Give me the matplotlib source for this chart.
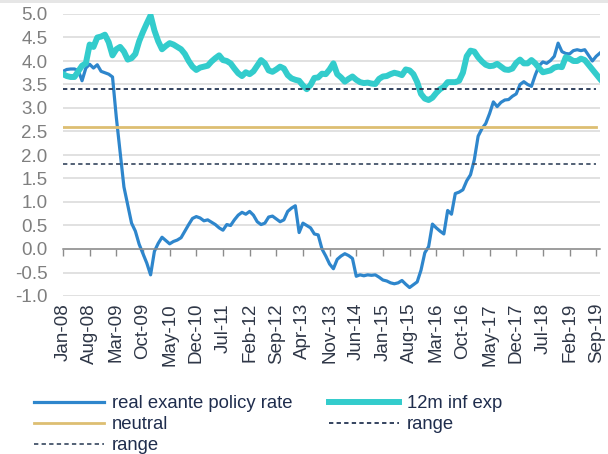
import numpy as np
import pandas as pd
import matplotlib
matplotlib.use('Agg')
import matplotlib.pyplot as plt
from matplotlib.patches import Rectangle
from matplotlib.ticker import FormatStrFormatter

plt.rcParams['font.family'] = ['Liberation Sans', 'DejaVu Sans']

# monthly, Jan-08 .. Oct-19
months = pd.date_range('2008-01-01', periods=142, freq='MS')

real_rate = [
    3.78, 3.82, 3.83, 3.83, 3.80, 3.58, 3.85, 3.93, 3.85, 3.92, 3.78, 3.75,
    3.72, 3.66, 2.80, 2.05, 1.32, 0.93, 0.55, 0.38, 0.10, -0.10, -0.30, -0.55,
    -0.05, 0.12, 0.25, 0.18, 0.11, 0.16, 0.19, 0.24, 0.38, 0.52, 0.65, 0.69,
    0.66, 0.60, 0.62, 0.57, 0.52, 0.45, 0.40, 0.52, 0.50, 0.62, 0.72, 0.78,
    0.74, 0.80, 0.72, 0.58, 0.52, 0.55, 0.68, 0.70, 0.64, 0.58, 0.62, 0.80,
    0.87, 0.92, 0.35, 0.55, 0.50, 0.45, 0.32, 0.30, 0.00, -0.15, -0.32, -0.42,
    -0.22, -0.15, -0.10, -0.14, -0.20, -0.58, -0.55, -0.57, -0.55, -0.56, -0.55, -0.60,
    -0.66, -0.68, -0.72, -0.74, -0.72, -0.67, -0.75, -0.82, -0.76, -0.70, -0.45, -0.08,
    0.05, 0.53, 0.45, 0.38, 0.32, 0.82, 0.74, 1.18, 1.21, 1.26, 1.45, 1.58,
    1.90, 2.40, 2.56, 2.67, 2.88, 3.13, 3.03, 3.12, 3.17, 3.18, 3.25, 3.30,
    3.50, 3.56, 3.50, 3.46, 3.70, 3.90, 3.98, 3.95, 4.01, 4.10, 4.38, 4.20,
    4.16, 4.15, 4.22, 4.24, 4.22, 4.24, 4.12, 4.00, 4.10, 4.17,
]

inf_exp = [
    3.72, 3.68, 3.66, 3.66, 3.78, 3.90, 3.95, 4.35, 4.30, 4.50, 4.52, 4.56,
    4.40, 4.12, 4.25, 4.30, 4.20, 4.03, 4.06, 4.15, 4.42, 4.62, 4.80, 4.97,
    4.65, 4.42, 4.25, 4.32, 4.38, 4.35, 4.30, 4.25, 4.15, 4.00, 3.88, 3.81,
    3.86, 3.88, 3.90, 3.99, 4.06, 4.12, 4.02, 4.00, 3.95, 3.84, 3.74, 3.68,
    3.76, 3.72, 3.78, 3.90, 4.02, 3.95, 3.80, 3.77, 3.82, 3.88, 3.84, 3.70,
    3.63, 3.60, 3.58, 3.48, 3.40, 3.49, 3.64, 3.65, 3.73, 3.72, 3.82, 3.95,
    3.72, 3.65, 3.56, 3.62, 3.67, 3.60, 3.55, 3.53, 3.54, 3.52, 3.51, 3.62,
    3.67, 3.68, 3.72, 3.75, 3.73, 3.70, 3.82, 3.80, 3.72, 3.55, 3.30, 3.20,
    3.17, 3.22, 3.32, 3.40, 3.45, 3.55, 3.55, 3.55, 3.58, 3.75, 4.10, 4.22,
    4.20, 4.08, 3.99, 3.92, 3.89, 3.90, 3.94, 3.88, 3.82, 3.81, 3.84, 3.96,
    4.03, 3.95, 3.95, 4.02, 3.95, 3.85, 3.76, 3.78, 3.80, 3.86, 3.88, 3.87,
    4.08, 4.05, 4.00, 4.00, 4.05, 4.02, 3.92, 3.82, 3.72, 3.62,
]

neutral = 2.6
range_hi = 3.4
range_lo = 1.8

x = np.arange(len(months))
n_flat = 141  # flat lines stop at Sep-19

fig = plt.figure(figsize=(6.08, 4.54), dpi=100)
fig.add_artist(Rectangle((0, 1 - 3 / 454), 1, 3 / 454, transform=fig.transFigure,
                         color='#e6e6e6', lw=0))
ax = fig.add_axes([63 / 608, 1 - 296 / 454, (600 - 63) / 608, (296 - 14) / 454])

l1, = ax.plot(x, real_rate, color='#2E86CC', lw=2.3, label='real exante policy rate')
l2, = ax.plot(x, inf_exp, color='#33CCCC', lw=4.3, label='12m inf exp')
l3, = ax.plot(x[:n_flat], [neutral] * n_flat, color='#DDBE72', lw=2.0, label='neutral')
l4, = ax.plot(x[:n_flat], [range_hi] * n_flat, color='#243553', lw=1.3,
              ls=(0, (2.4, 1.8)), label='range')
l5, = ax.plot(x[:n_flat], [range_lo] * n_flat, color='#44546A', lw=1.3,
              ls=(0, (2.4, 1.8)), label='range')

ax.set_xlim(0, len(months) - 1)
ax.set_ylim(-1, 5)
ax.set_yticks(np.arange(-1, 5.01, 0.5))
ax.yaxis.set_major_formatter(FormatStrFormatter('%.1f'))
ax.yaxis.grid(True, color='#d9d9d9', lw=1.1)
ax.set_axisbelow(True)

for s in ['top', 'right', 'left']:
    ax.spines[s].set_visible(False)
ax.spines['bottom'].set_position(('data', 0))
ax.spines['bottom'].set_color('#8c8c8c')
ax.spines['bottom'].set_linewidth(1.1)

tick_pos = x[::7]
tick_lab = [d.strftime('%b-%y') for d in months[::7]]
ax.set_xticks(tick_pos)
ax.tick_params(axis='x', direction='out', length=5, width=1, color='#8c8c8c',
               labelbottom=False)
ax.tick_params(axis='y', length=0, pad=11, labelsize=13.5, labelcolor='#7f7f7f')

sec = ax.secondary_xaxis('bottom')
sec.set_xticks(tick_pos, labels=tick_lab)
sec.tick_params(length=0, pad=5, labelrotation=90, labelsize=13.5, labelcolor='#2f3747')
sec.spines['bottom'].set_visible(False)

fig.legend([l1, l3, l5, l2, l4], [h.get_label() for h in [l1, l3, l5, l2, l4]],
           ncol=2, loc='upper left', bbox_to_anchor=(34 / 608, 1 - 395 / 454),
           frameon=False, fontsize=13.3, labelcolor='#1f2d4d', borderpad=0,
           borderaxespad=0, handlelength=3.8, handletextpad=0.4,
           columnspacing=2.0, labelspacing=0.22)

fig.savefig('out.png', dpi=100)
